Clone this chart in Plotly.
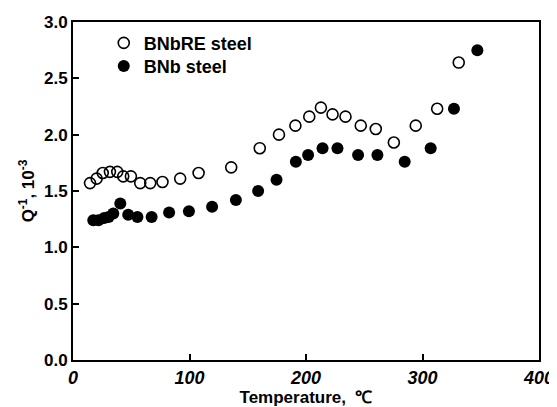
import plotly.graph_objects as go

# BNbRE steel (open circles)
bnbre_T = [14.6, 20.3, 25.5, 31.7, 38.0, 43.1, 49.7, 57.7, 66.3, 76.8, 92.0, 107.8,
           135.8, 160.3, 176.8, 190.9, 202.8, 212.8, 222.8, 233.9, 247.0, 259.9,
           275.4, 294.2, 312.6, 331.1]
bnbre_Q = [1.57, 1.61, 1.66, 1.67, 1.67, 1.63, 1.63, 1.57, 1.57, 1.58, 1.61, 1.66,
           1.71, 1.88, 2.00, 2.08, 2.16, 2.24, 2.18, 2.16, 2.08, 2.05,
           1.93, 2.08, 2.23, 2.64]

# BNb steel (filled circles)
bnb_T = [17.4, 21.9, 26.8, 30.6, 34.6, 40.6, 47.4, 55.3, 67.5, 82.5, 99.5, 119.4,
         139.8, 158.9, 174.7, 191.3, 201.8, 214.2, 227.0, 244.7, 261.3, 284.7,
         307.0, 327.0, 347.1]
bnb_Q = [1.24, 1.24, 1.26, 1.27, 1.30, 1.39, 1.29, 1.27, 1.27, 1.31, 1.32, 1.36,
         1.42, 1.50, 1.60, 1.76, 1.82, 1.88, 1.88, 1.82, 1.82, 1.76,
         1.88, 2.23, 2.75]

x_ticks = [0, 100, 200, 300, 400]
y_ticks = [0.0, 0.5, 1.0, 1.5, 2.0, 2.5, 3.0]

FONT = "Liberation Sans, Arial, sans-serif"

fig = go.Figure()
fig.add_trace(go.Scatter(
    x=bnbre_T, y=bnbre_Q, mode="markers", name="BNbRE steel", legend="legend",
    marker=dict(symbol="circle-open", size=11, color="black",
                line=dict(width=1.6, color="black")),
))
fig.add_trace(go.Scatter(
    x=bnb_T, y=bnb_Q, mode="markers", name="BNb steel", legend="legend2",
    marker=dict(symbol="circle", size=12, color="black",
                line=dict(width=0)),
))

leg_common = dict(xanchor="left", yanchor="top", bgcolor="rgba(0,0,0,0)",
                  font=dict(size=18, weight="bold", family=FONT))

fig.update_layout(
    width=549, height=399,
    margin=dict(l=65, r=18, t=14, b=47, autoexpand=False),
    paper_bgcolor="white", plot_bgcolor="white",
    font=dict(family=FONT, size=17, color="black", weight="bold"),
    showlegend=True,
    legend=dict(x=0.066, y=0.992, **leg_common),
    legend2=dict(x=0.066, y=0.924, **leg_common),
    xaxis=dict(
        range=[0, 400], tickvals=x_ticks, ticktext=[str(v) for v in x_ticks],
        ticks="inside", ticklen=6, tickwidth=1.5, tickcolor="black",
        showline=True, linecolor="black", linewidth=2, mirror=True,
        showgrid=False, zeroline=False, automargin=False,
        ticklabeloverflow="allow",
        tickfont=dict(size=18, weight="bold", style="italic"),
        title=dict(text="Temperature,  ℃", font=dict(size=17, weight="bold"), standoff=3),
    ),
    yaxis=dict(
        range=[0, 3.0], tickvals=y_ticks, ticktext=[f"{v:.1f}" for v in y_ticks],
        ticks="inside", ticklen=6, tickwidth=1.5, tickcolor="black",
        showline=True, linecolor="black", linewidth=2, mirror=True,
        showgrid=False, zeroline=False, automargin=False,
        ticklabeloverflow="allow",
        tickfont=dict(size=17, weight="bold"),
        title=dict(text="Q<sup>-1</sup>, 10<sup>-3</sup>", font=dict(size=17, weight="bold"), standoff=5),
    ),
)

fig.write_html("out.html")
